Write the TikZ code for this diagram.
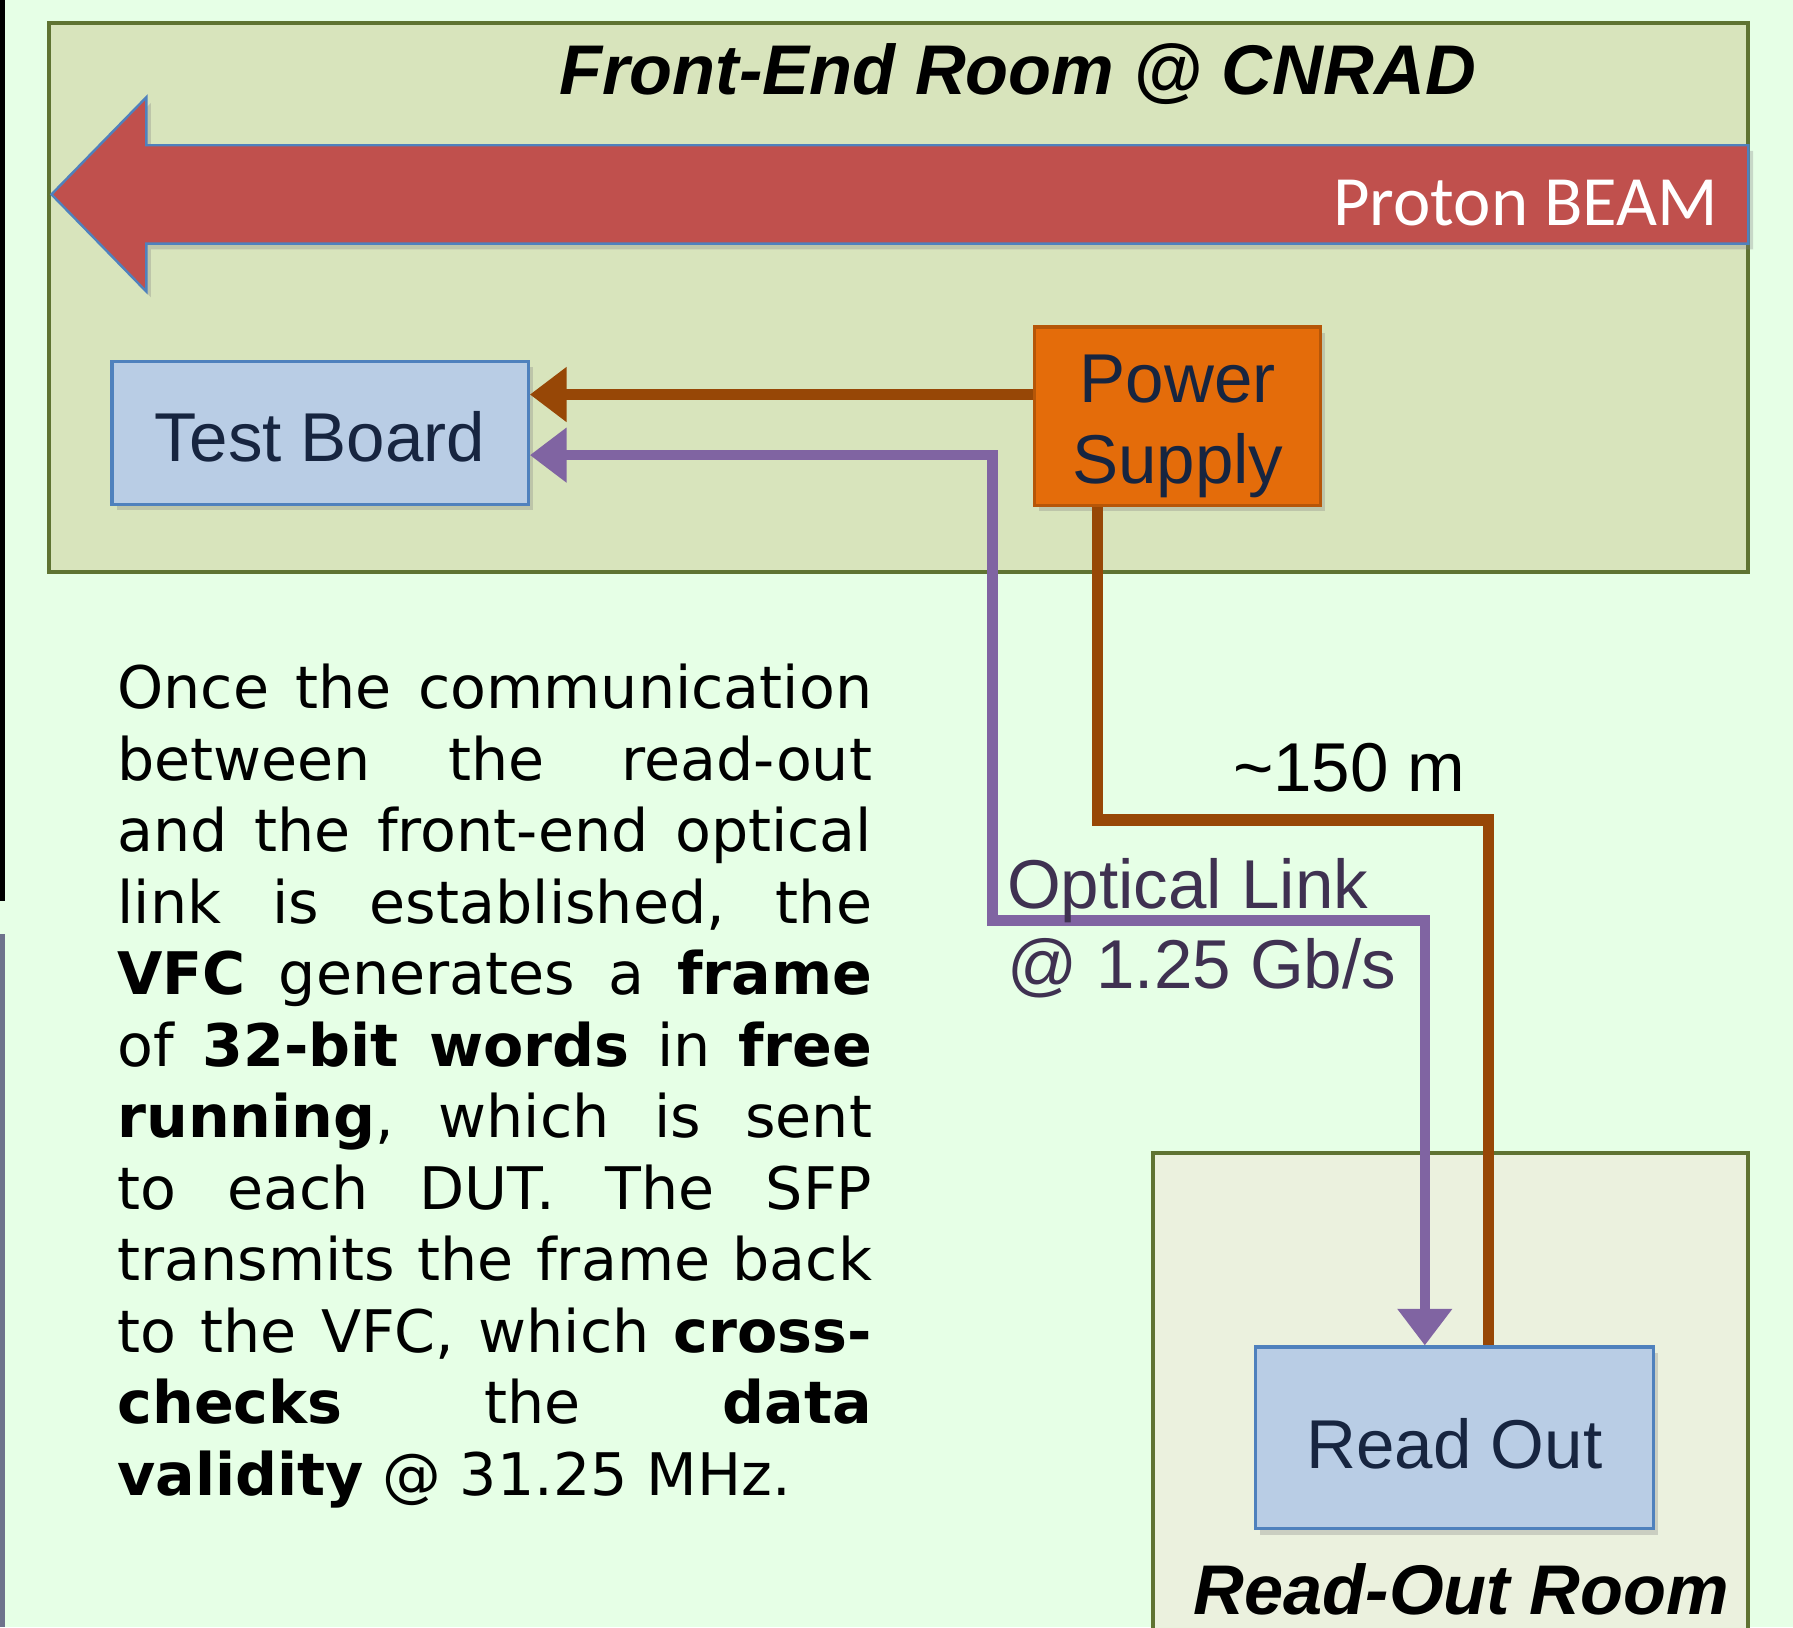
\documentclass[tikz,border=0pt]{standalone}
\usepackage{fontspec}
\setmainfont{Liberation Sans}
\newfontfamily\verdfont{DejaVu Sans}
\newfontfamily\calfont{Carlito}
\usepackage{xcolor}
\usetikzlibrary{arrows.meta,shadows}
\definecolor{bggreen}{RGB}{230,255,230}
\definecolor{roomgreen}{RGB}{216,228,188}
\definecolor{roomlight}{RGB}{235,241,222}
\definecolor{roomedge}{RGB}{95,115,50}
\definecolor{beamred}{RGB}{192,80,77}
\definecolor{boardblue}{RGB}{185,205,229}
\definecolor{edgeblue}{RGB}{79,129,189}
\definecolor{psorange}{RGB}{228,108,10}
\definecolor{psedge}{RGB}{182,86,8}
\definecolor{cablebrown}{RGB}{151,71,6}
\definecolor{fibrepurple}{RGB}{128,100,162}
\definecolor{labelpurple}{RGB}{63,49,81}
\definecolor{boxtext}{RGB}{23,37,64}
\definecolor{edgegray}{RGB}{110,115,140}

\begin{document}
\begin{tikzpicture}[
  softshadow/.style={drop shadow={shadow xshift=0.04cm, shadow yshift=-0.05cm, opacity=0.3}},
  devbox/.style={rectangle, draw=edgeblue, fill=boardblue, line width=0.8pt, text=boxtext,
    inner sep=0pt, font=\fontsize{17.2}{20}\selectfont, softshadow},
  room/.style={draw=roomedge, line width=1pt},
  power/.style={cablebrown, line width=2.8pt},
  fibre/.style={fibrepurple, line width=2.6pt},
  cabletip/.tip={Triangle[length=0.32cm, width=0.46cm]}
]
\useasboundingbox (0,0) rectangle (15.68,-14.23);
\fill[bggreen] (0,0) rectangle (15.68,-14.23);
\draw[black, line width=1.2pt] (0.02,0) -- (0.02,-7.88);
\draw[edgegray, line width=1.2pt] (0.02,-8.17) -- (0.02,-14.23);

% Rooms
\filldraw[room, fill=roomgreen] (0.43,-0.20) rectangle (15.29,-5.00);
\filldraw[room, fill=roomlight] (10.08,-10.08) rectangle (15.29,-14.60);
\node[font=\bfseries\itshape\fontsize{17.5}{20}\selectfont, anchor=base] (feroom) at (8.90,-0.83) {Front-End Room @ CNRAD};
\node[font=\bfseries\itshape\fontsize{17.5}{20}\selectfont, anchor=base] (roroom) at (12.78,-14.12) {Read-Out Room};

% Beam
\filldraw[fill=beamred, draw=edgeblue, line width=0.6pt, softshadow]
  (0.45,-1.70) -- (1.28,-0.85) -- (1.28,-1.27) -- (15.29,-1.27) -- (15.29,-2.13)
  -- (1.28,-2.13) -- (1.28,-2.55) -- cycle;
\node[text=white, font=\calfont\fontsize{17.6}{20}\selectfont, anchor=base east, inner sep=0pt] (beam) at (15.03,-1.97) {Proton BEAM};

% Devices
\node[devbox, minimum width=3.64cm, minimum height=1.25cm, text height=0.50cm] (tb) at (2.80,-3.785) {Test Board};
\node[devbox, draw=psedge, fill=psorange, minimum width=2.50cm, minimum height=1.56cm] (ps) at (10.30,-3.64) {};
\node[text=boxtext, font=\fontsize{17.2}{20}\selectfont, align=center, inner sep=0pt] (pslabel) at (10.30,-3.73) {Power\\Supply};
\node[devbox, minimum width=3.48cm, minimum height=1.59cm, text height=0.54cm] (ro) at (12.72,-12.575) {Read Out};

% Cables
\draw[power, -{cabletip}] (ps.west |- 0,-3.45) -- (tb.east |- 0,-3.45);
\draw[power] (ps.south -| 9.60,0) |- (13.02,-7.17) -- (ro.north -| 13.02,0);
\draw[fibre, {cabletip}-{cabletip}] (tb.east |- 0,-3.98) -| (8.68,-8.05) -| (ro.north -| 12.46,0);

\node[font=\fontsize{17.2}{20}\selectfont, anchor=base] (dist) at (11.80,-6.92) {\textasciitilde150 m};
\node[text=labelpurple, font=\fontsize{17.2}{20}\selectfont, anchor=north west, align=left, inner sep=0pt] (link) at (8.80,-7.50) {Optical Link\\@ 1.25 Gb/s};

% Description
\node[anchor=north west, inner sep=0pt, text width=6.60cm, align=justify,
  font=\verdfont\fontsize{14.6}{17.8}\selectfont] (info) at (1.02,-5.80)
  {\frenchspacing Once the communication\linebreak between the read-out\linebreak and the front-end optical\linebreak
   link is established, the\linebreak \textbf{VFC} generates a \textbf{frame}\linebreak
   of \textbf{32-bit words} in \textbf{free}\linebreak \textbf{running}, which is sent\linebreak
   to each DUT. The SFP\linebreak transmits the frame back\linebreak
   to the VFC, which \textbf{cross-}\linebreak \textbf{checks} the \textbf{data}\linebreak
   \textbf{validity} @ 31.25 MHz.};
\end{tikzpicture}
\end{document}
